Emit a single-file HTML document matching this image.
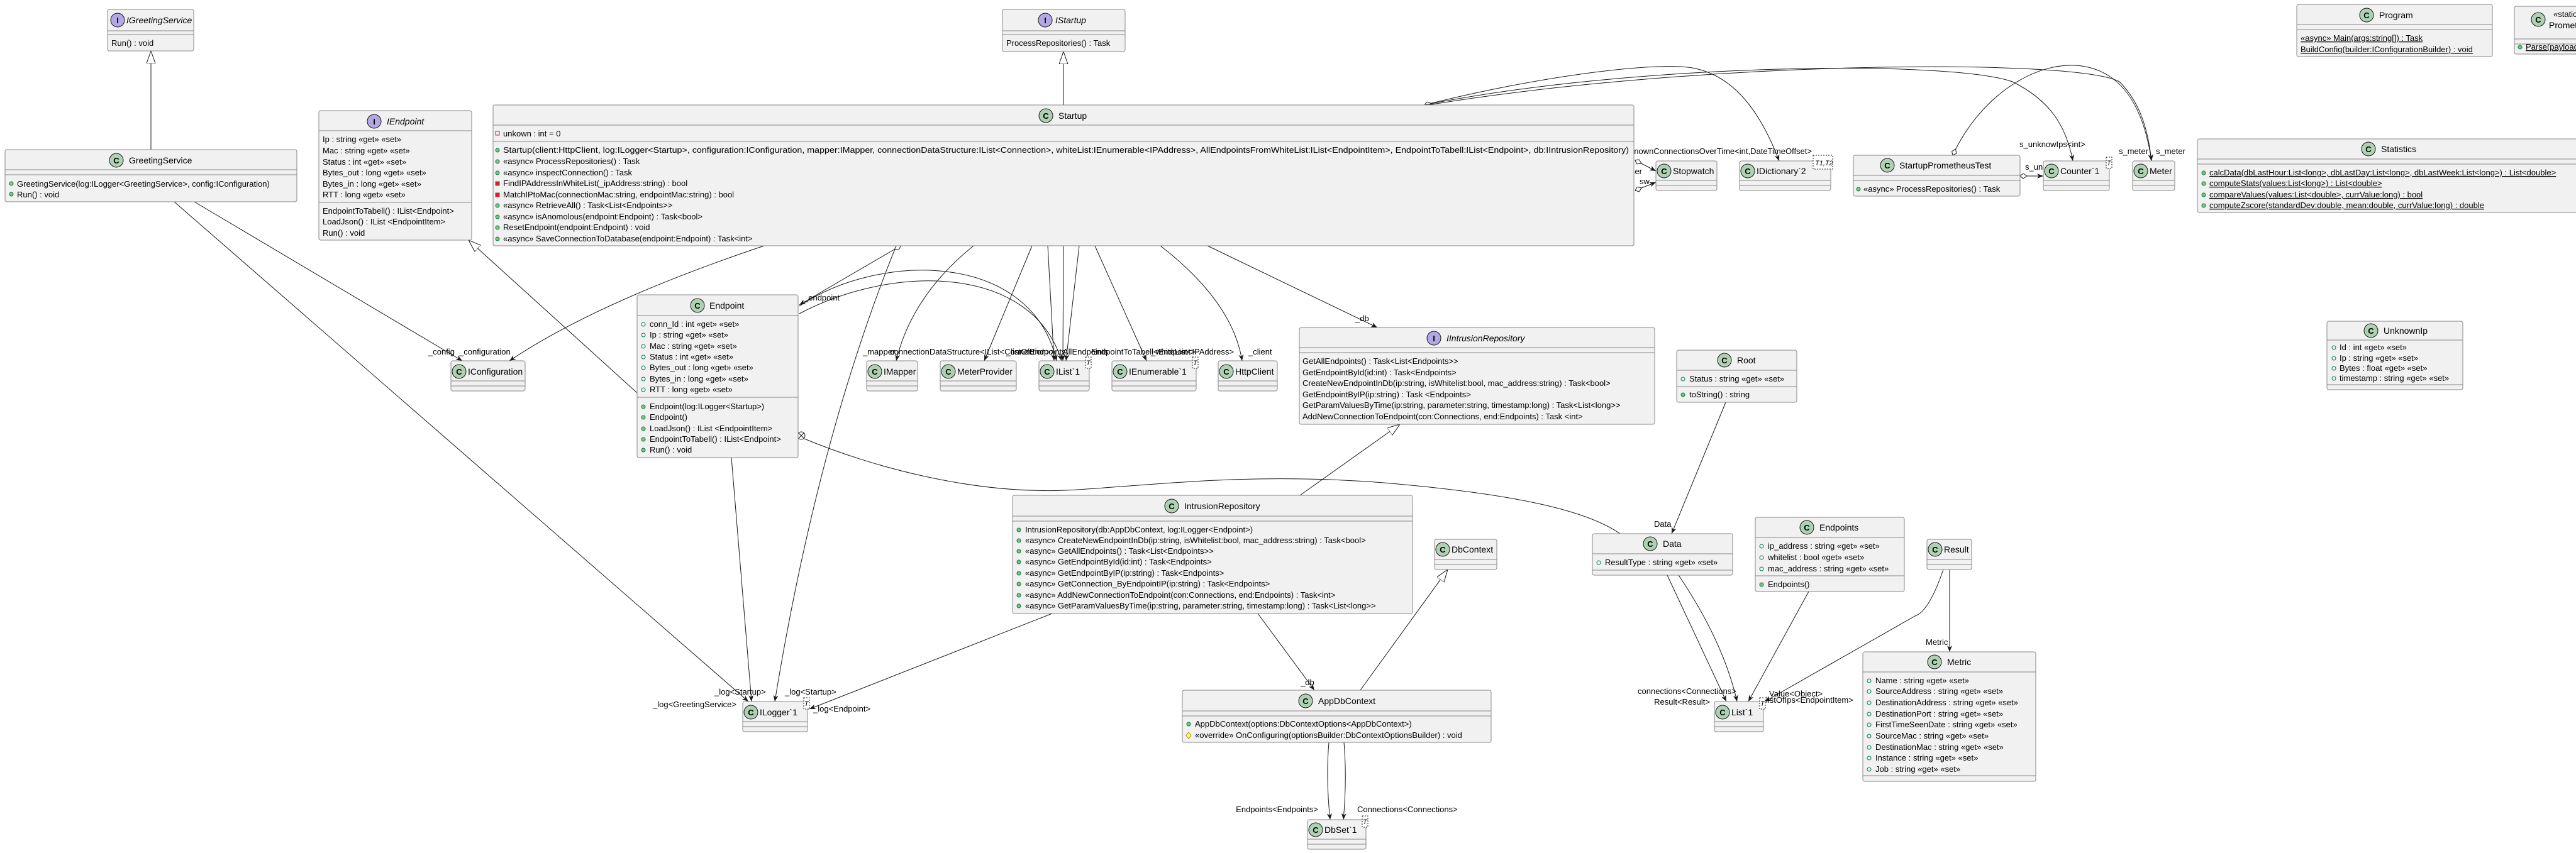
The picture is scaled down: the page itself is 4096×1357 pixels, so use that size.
<!DOCTYPE html>
<html><head><meta charset="utf-8"><style>
html,body{margin:0;padding:0;background:#fff;}
svg{display:block;}
text{font-family:"Liberation Sans",sans-serif;font-size:13px;fill:#000;}
.t{font-size:14px;}
.it{font-style:italic;}
.u{text-decoration:underline;}
.b{fill:#F1F1F1;stroke:#888;stroke-width:1;}
.s{stroke:#888;stroke-width:1;}
.e{fill:none;stroke:#181818;stroke-width:1;}
.cc{fill:#ADD1B2;stroke:#181818;stroke-width:1;}
.ci{fill:#B4A7E5;stroke:#181818;stroke-width:1;}
.cl{font-weight:bold;font-size:13px;text-anchor:middle;}
.pm{fill:#84BE84;stroke:#038048;}
.pf{fill:none;stroke:#038048;}
.rm{fill:#C82930;stroke:#C82930;}
.rf{fill:none;stroke:#C82930;}
.tp{fill:#fff;stroke:#181818;stroke-dasharray:2,2;}
</style></head><body>
<svg width="4096" height="1357" viewBox="0 0 4096 1357" xmlns="http://www.w3.org/2000/svg">
<defs>
<marker id="a" markerWidth="12" markerHeight="10" refX="10" refY="4" orient="auto" markerUnits="userSpaceOnUse"><path d="M0,0 L10,4 L0,8 L3,4 z" fill="#181818"/></marker>
<marker id="tri" markerWidth="22" markerHeight="16" refX="20" refY="7" orient="auto" markerUnits="userSpaceOnUse"><path d="M0,0 L20,7 L0,14 z" fill="#fff" stroke="#181818"/></marker>
<marker id="dm" markerWidth="14" markerHeight="10" refX="1" refY="4" orient="auto" markerUnits="userSpaceOnUse"><path d="M1,4 L6,0 L12,4 L6,8 z" fill="#fff" stroke="#181818"/></marker>
</defs>

<!-- ===== CONNECTORS ===== -->
<line class="e" x1="240" y1="238" x2="240" y2="81" marker-end="url(#tri)"/>
<line class="e" x1="1691" y1="167" x2="1691" y2="82" marker-end="url(#tri)"/>
<line class="e" x1="1013" y1="625" x2="745" y2="382" marker-end="url(#tri)"/>
<line class="e" x1="309" y1="321" x2="735" y2="574" marker-end="url(#a)"/>
<line class="e" x1="277" y1="321" x2="1190" y2="1116" marker-end="url(#a)"/>
<path class="e" d="M1215,391 Q950,480 810,574" marker-end="url(#a)"/>
<path class="e" d="M1425,391 Q1300,700 1232,1116" marker-end="url(#a)"/>
<line class="e" x1="1163" y1="728" x2="1195" y2="1116" marker-end="url(#a)"/>
<line class="e" x1="1432" y1="391" x2="1271" y2="485" marker-start="url(#dm)" marker-end="url(#a)"/>
<path class="e" d="M1271,487 C1400,400 1640,400 1680,574" marker-end="url(#a)"/>
<path class="e" d="M1271,499 C1420,420 1640,420 1688,574" marker-end="url(#a)"/>
<path class="e" d="M1548,391 Q1450,470 1425,574" marker-end="url(#a)"/>
<line class="e" x1="1641" y1="391" x2="1565" y2="574" marker-end="url(#a)"/>
<line class="e" x1="1666" y1="391" x2="1676" y2="574" marker-end="url(#a)"/>
<line class="e" x1="1691" y1="391" x2="1690" y2="574" marker-end="url(#a)"/>
<line class="e" x1="1716" y1="391" x2="1695" y2="574" marker-end="url(#a)"/>
<line class="e" x1="1741" y1="391" x2="1823" y2="574" marker-end="url(#a)"/>
<path class="e" d="M1845,391 Q1960,480 1975,574" marker-end="url(#a)"/>
<line class="e" x1="1920" y1="391" x2="2190" y2="521" marker-end="url(#a)"/>
<line class="e" x1="2600" y1="255" x2="2633" y2="272" marker-start="url(#dm)" marker-end="url(#a)"/>
<line class="e" x1="2600" y1="303" x2="2633" y2="290" marker-start="url(#dm)" marker-end="url(#a)"/>
<path class="e" d="M2265,167 C2450,120 2650,95 2700,110 C2760,125 2800,180 2829,256" marker-start="url(#dm)" marker-end="url(#a)"/>
<path class="e" d="M2265,167 C2600,100 3100,95 3200,130 C3260,160 3285,200 3296,256" marker-end="url(#a)"/>
<path class="e" d="M2265,168 C2700,96 3300,92 3370,130 C3400,160 3415,200 3421,256" marker-end="url(#a)"/>
<path class="e" d="M3105,247 C3150,150 3240,95 3310,105 C3380,115 3410,180 3421,256" marker-start="url(#dm)" marker-end="url(#a)"/>
<line class="e" x1="3212" y1="280" x2="3249" y2="280" marker-start="url(#dm)" marker-end="url(#a)"/>
<line class="e" x1="1673" y1="976" x2="1287" y2="1128" marker-end="url(#a)"/>
<line class="e" x1="2067" y1="788" x2="2226" y2="675" marker-end="url(#tri)"/>
<line class="e" x1="2000" y1="976" x2="2090" y2="1098" marker-end="url(#a)"/>
<line class="e" x1="2163" y1="1098" x2="2302" y2="906" marker-end="url(#tri)"/>
<path class="e" d="M2113,1181 Q2108,1240 2115,1304" marker-end="url(#a)"/>
<path class="e" d="M2137,1181 Q2142,1240 2136,1304" marker-end="url(#a)"/>
<circle cx="1274" cy="693" r="6" fill="#fff" stroke="#181818"/>
<line x1="1270" y1="689" x2="1278" y2="697" stroke="#181818"/><line x1="1270" y1="697" x2="1278" y2="689" stroke="#181818"/>
<path class="e" d="M1279,698 C1380,740 1550,790 1714,779 C1850,770 2000,752 2200,768 C2400,785 2520,810 2576,849"/>
<line class="e" x1="2744" y1="640" x2="2658" y2="849" marker-end="url(#a)"/>
<path class="e" d="M2651,915 Q2700,1020 2745,1116" marker-end="url(#a)"/>
<path class="e" d="M2669,915 Q2740,1020 2762,1116" marker-end="url(#a)"/>
<line class="e" x1="2876" y1="941" x2="2780" y2="1116" marker-end="url(#a)"/>
<path class="e" d="M3090,906 C3075,950 3060,975 3045,980 L2806,1116" marker-end="url(#a)"/>
<line class="e" x1="3100" y1="906" x2="3100" y2="1037" marker-end="url(#a)"/>

<!-- edge labels -->
<text x="681" y="564">_config</text>
<text x="730" y="564">_configuration</text>
<text x="1171" y="1125" text-anchor="end">_log&lt;GreetingService&gt;</text>
<text x="1136" y="1105">_log&lt;Startup&gt;</text>
<text x="1248" y="1105">_log&lt;Startup&gt;</text>
<text x="1293" y="1132">_log&lt;Endpoint&gt;</text>
<text x="1278" y="478">_endpoint</text>
<text x="1372" y="564">_mapper</text>
<text x="1415" y="564">connectionDataStructure&lt;IList&lt;Connection&gt;&gt;</text>
<text x="1600" y="564">_listOfEndpoints</text>
<text x="1690" y="564">AllEndpoints</text>
<text x="1735" y="564">EndpointToTabell&lt;Endpoint&gt;</text>
<text x="1830" y="564">_whiteList&lt;IPAddress&gt;</text>
<text x="1985" y="564">_client</text>
<text x="2155" y="511">_db</text>
<text x="2881" y="245" text-anchor="end">_unknownConnectionsOverTime&lt;int,DateTimeOffset&gt;</text>
<text x="2611" y="277" text-anchor="end">timer</text>
<text x="2607" y="293">sw</text>
<text x="3211" y="234">s_unknowIps&lt;int&gt;</text>
<text x="3220" y="270">s_unknowIps&lt;int&gt;</text>
<text x="3369" y="245">s_meter</text>
<text x="3428" y="245">s_meter</text>
<text x="2068" y="1090">_db</text>
<text x="2096" y="1292" text-anchor="end">Endpoints&lt;Endpoints&gt;</text>
<text x="2158" y="1292">Connections&lt;Connections&gt;</text>
<text x="2630" y="838">Data</text>
<text x="2604" y="1104">connections&lt;Connections&gt;</text>
<text x="2719" y="1121" text-anchor="end">Result&lt;Result&gt;</text>
<text x="2813" y="1108">Value&lt;Object&gt;</text>
<text x="2808" y="1118">listOfIps&lt;EndpointItem&gt;</text>
<text x="3062" y="1026">Metric</text>

<!-- ===== BOXES ===== -->
<!-- IGreetingService -->
<rect class="b" x="171" y="15" width="137" height="66" rx="3"/>
<line class="s" x1="171" y1="49" x2="308" y2="49"/><line class="s" x1="171" y1="55" x2="308" y2="55"/>
<circle class="ci" cx="187" cy="32" r="11"/><text class="cl" x="187" y="37">I</text>
<text class="t it" x="201" y="37">IGreetingService</text>
<text x="177" y="73">Run() : void</text>

<!-- GreetingService -->
<rect class="b" x="8" y="238" width="464" height="83" rx="3"/>
<line class="s" x1="8" y1="270" x2="472" y2="270"/><line class="s" x1="8" y1="278" x2="472" y2="278"/>
<circle class="cc" cx="185" cy="255" r="11"/><text class="cl" x="185" y="260">C</text>
<text class="t" x="205" y="260">GreetingService</text>
<circle class="pm" cx="18" cy="292" r="3"/><text x="27" y="297">GreetingService(log:ILogger&lt;GreetingService&gt;, config:IConfiguration)</text>
<circle class="pm" cx="18" cy="309" r="3"/><text x="27" y="314">Run() : void</text>

<!-- IEndpoint -->
<rect class="b" x="507" y="176" width="243" height="206" rx="3"/>
<line class="s" x1="507" y1="208" x2="750" y2="208"/><line class="s" x1="507" y1="322" x2="750" y2="322"/>
<circle class="ci" cx="595" cy="193" r="11"/><text class="cl" x="595" y="198">I</text>
<text class="t it" x="615" y="198">IEndpoint</text>
<text x="513" y="226">Ip : string «get» «set»</text>
<text x="513" y="244">Mac : string «get» «set»</text>
<text x="513" y="262">Status : int «get» «set»</text>
<text x="513" y="279">Bytes_out : long «get» «set»</text>
<text x="513" y="297">Bytes_in : long «get» «set»</text>
<text x="513" y="314">RTT : long «get» «set»</text>
<text x="513" y="340">EndpointToTabell() : IList&lt;Endpoint&gt;</text>
<text x="513" y="357">LoadJson() : IList &lt;EndpointItem&gt;</text>
<text x="513" y="375">Run() : void</text>

<!-- IStartup -->
<rect class="b" x="1594" y="15" width="195" height="67" rx="3"/>
<line class="s" x1="1594" y1="49" x2="1789" y2="49"/><line class="s" x1="1594" y1="55" x2="1789" y2="55"/>
<circle class="ci" cx="1662" cy="32" r="11"/><text class="cl" x="1662" y="37">I</text>
<text class="t it" x="1678" y="37">IStartup</text>
<text x="1600" y="73">ProcessRepositories() : Task</text>

<!-- Startup -->
<rect class="b" x="784" y="167" width="1814" height="224" rx="3"/>
<line class="s" x1="784" y1="199" x2="2598" y2="199"/><line class="s" x1="784" y1="225" x2="2598" y2="225"/>
<circle class="cc" cx="1663" cy="184" r="11"/><text class="cl" x="1663" y="189">C</text>
<text class="t" x="1683" y="189">Startup</text>
<rect class="rf" x="788" y="209" width="6" height="6"/><text x="800" y="217">unkown : int = 0</text>
<circle class="pm" cx="791" cy="239" r="3"/><text x="800" y="243" textLength="1790" lengthAdjust="spacingAndGlyphs">Startup(client:HttpClient, log:ILogger&lt;Startup&gt;, configuration:IConfiguration, mapper:IMapper, connectionDataStructure:IList&lt;Connection&gt;, whiteList:IEnumerable&lt;IPAddress&gt;, AllEndpointsFromWhiteList:IList&lt;EndpointItem&gt;, EndpointToTabell:IList&lt;Endpoint&gt;, db:IIntrusionRepository)</text>
<circle class="pm" cx="791" cy="257" r="3"/><text x="800" y="261">«async» ProcessRepositories() : Task</text>
<circle class="pm" cx="791" cy="275" r="3"/><text x="800" y="279">«async» inspectConnection() : Task</text>
<rect class="rm" x="788" y="289" width="6" height="6"/><text x="800" y="296">FindIPAddressInWhiteList(_ipAddress:string) : bool</text>
<rect class="rm" x="788" y="307" width="6" height="6"/><text x="800" y="314">MatchIPtoMac(connectionMac:string, endpointMac:string) : bool</text>
<circle class="pm" cx="791" cy="327" r="3"/><text x="800" y="331">«async» RetrieveAll() : Task&lt;List&lt;Endpoints&gt;&gt;</text>
<circle class="pm" cx="791" cy="345" r="3"/><text x="800" y="349">«async» isAnomolous(endpoint:Endpoint) : Task&lt;bool&gt;</text>
<circle class="pm" cx="791" cy="362" r="3"/><text x="800" y="366">ResetEndpoint(endpoint:Endpoint) : void</text>
<circle class="pm" cx="791" cy="380" r="3"/><text x="800" y="384">«async» SaveConnectionToDatabase(endpoint:Endpoint) : Task&lt;int&gt;</text>

<!-- Endpoint -->
<rect class="b" x="1013" y="469" width="256" height="259" rx="3"/>
<line class="s" x1="1013" y1="502" x2="1269" y2="502"/><line class="s" x1="1013" y1="632" x2="1269" y2="632"/>
<circle class="cc" cx="1109" cy="486" r="11"/><text class="cl" x="1109" y="491">C</text>
<text class="t" x="1128" y="491">Endpoint</text>
<circle class="pf" cx="1023" cy="516" r="3"/><text x="1033" y="520">conn_Id : int «get» «set»</text>
<circle class="pf" cx="1023" cy="533" r="3"/><text x="1033" y="537">Ip : string «get» «set»</text>
<circle class="pf" cx="1023" cy="551" r="3"/><text x="1033" y="555">Mac : string «get» «set»</text>
<circle class="pf" cx="1023" cy="568" r="3"/><text x="1033" y="572">Status : int «get» «set»</text>
<circle class="pf" cx="1023" cy="585" r="3"/><text x="1033" y="589">Bytes_out : long «get» «set»</text>
<circle class="pf" cx="1023" cy="603" r="3"/><text x="1033" y="607">Bytes_in : long «get» «set»</text>
<circle class="pf" cx="1023" cy="620" r="3"/><text x="1033" y="624">RTT : long «get» «set»</text>
<circle class="pm" cx="1023" cy="647" r="3"/><text x="1033" y="651">Endpoint(log:ILogger&lt;Startup&gt;)</text>
<circle class="pm" cx="1023" cy="664" r="3"/><text x="1033" y="668">Endpoint()</text>
<circle class="pm" cx="1023" cy="682" r="3"/><text x="1033" y="686">LoadJson() : IList &lt;EndpointItem&gt;</text>
<circle class="pm" cx="1023" cy="699" r="3"/><text x="1033" y="703">EndpointToTabell() : IList&lt;Endpoint&gt;</text>
<circle class="pm" cx="1023" cy="716" r="3"/><text x="1033" y="720">Run() : void</text>

<!-- small classes y=574 -->
<g>
<rect class="b" x="717" y="574" width="118" height="48" rx="3"/><line class="s" x1="717" y1="606" x2="835" y2="606"/><line class="s" x1="717" y1="614" x2="835" y2="614"/>
<circle class="cc" cx="730" cy="591" r="11"/><text class="cl" x="730" y="596">C</text><text class="t" x="744" y="596">IConfiguration</text>
<rect class="b" x="1378" y="574" width="81" height="48" rx="3"/><line class="s" x1="1378" y1="606" x2="1459" y2="606"/><line class="s" x1="1378" y1="614" x2="1459" y2="614"/>
<circle class="cc" cx="1391" cy="591" r="11"/><text class="cl" x="1391" y="596">C</text><text class="t" x="1405" y="596">IMapper</text>
<rect class="b" x="1495" y="574" width="121" height="48" rx="3"/><line class="s" x1="1495" y1="606" x2="1616" y2="606"/><line class="s" x1="1495" y1="614" x2="1616" y2="614"/>
<circle class="cc" cx="1508" cy="591" r="11"/><text class="cl" x="1508" y="596">C</text><text class="t" x="1522" y="596">MeterProvider</text>
<rect class="b" x="1652" y="574" width="80" height="48" rx="3"/><line class="s" x1="1652" y1="606" x2="1732" y2="606"/><line class="s" x1="1652" y1="614" x2="1732" y2="614"/>
<circle class="cc" cx="1665" cy="591" r="11"/><text class="cl" x="1665" y="596">C</text><text class="t" x="1679" y="596">IList`1</text>
<rect class="tp" x="1726" y="568" width="9" height="18"/><text class="it" x="1727" y="581" style="font-size:11px">T</text>
<rect class="b" x="1768" y="574" width="134" height="48" rx="3"/><line class="s" x1="1768" y1="606" x2="1902" y2="606"/><line class="s" x1="1768" y1="614" x2="1902" y2="614"/>
<circle class="cc" cx="1781" cy="591" r="11"/><text class="cl" x="1781" y="596">C</text><text class="t" x="1795" y="596">IEnumerable`1</text>
<rect class="tp" x="1896" y="568" width="9" height="18"/><text class="it" x="1897" y="581" style="font-size:11px">T</text>
<rect class="b" x="1937" y="574" width="94" height="48" rx="3"/><line class="s" x1="1937" y1="606" x2="2031" y2="606"/><line class="s" x1="1937" y1="614" x2="2031" y2="614"/>
<circle class="cc" cx="1950" cy="591" r="11"/><text class="cl" x="1950" y="596">C</text><text class="t" x="1964" y="596">HttpClient</text>
</g>

<!-- IIntrusionRepository -->
<rect class="b" x="2066" y="521" width="565" height="154" rx="3"/>
<line class="s" x1="2066" y1="553" x2="2631" y2="553"/><line class="s" x1="2066" y1="561" x2="2631" y2="561"/>
<circle class="ci" cx="2280" cy="538" r="11"/><text class="cl" x="2280" y="543">I</text>
<text class="t it" x="2300" y="543">IIntrusionRepository</text>
<text x="2071" y="579">GetAllEndpoints() : Task&lt;List&lt;Endpoints&gt;&gt;</text>
<text x="2071" y="597">GetEndpointById(id:int) : Task&lt;Endpoints&gt;</text>
<text x="2071" y="614">CreateNewEndpointInDb(ip:string, isWhitelist:bool, mac_address:string) : Task&lt;bool&gt;</text>
<text x="2071" y="632">GetEndpointByIP(ip:string) : Task &lt;Endpoints&gt;</text>
<text x="2071" y="649">GetParamValuesByTime(ip:string, parameter:string, timestamp:long) : Task&lt;List&lt;long&gt;&gt;</text>
<text x="2071" y="667">AddNewConnectionToEndpoint(con:Connections, end:Endpoints) : Task &lt;int&gt;</text>

<!-- Stopwatch, IDictionary, StartupPrometheusTest, Counter, Meter -->
<rect class="b" x="2633" y="256" width="97" height="47" rx="3"/><line class="s" x1="2633" y1="287" x2="2730" y2="287"/><line class="s" x1="2633" y1="295" x2="2730" y2="295"/>
<circle class="cc" cx="2646" cy="272" r="11"/><text class="cl" x="2646" y="277">C</text><text class="t" x="2660" y="277">Stopwatch</text>
<rect class="b" x="2766" y="256" width="145" height="47" rx="3"/><line class="s" x1="2766" y1="287" x2="2911" y2="287"/><line class="s" x1="2766" y1="295" x2="2911" y2="295"/>
<circle class="cc" cx="2779" cy="272" r="11"/><text class="cl" x="2779" y="277">C</text><text class="t" x="2793" y="277">IDictionary`2</text>
<rect class="tp" x="2883" y="247" width="31" height="22"/><text class="it" x="2886" y="263" style="font-size:11px">T1,T2</text>
<rect class="b" x="2947" y="247" width="265" height="65" rx="3"/><line class="s" x1="2947" y1="279" x2="3212" y2="279"/><line class="s" x1="2947" y1="287" x2="3212" y2="287"/>
<circle class="cc" cx="3001" cy="263" r="11"/><text class="cl" x="3001" y="268">C</text><text class="t" x="3020" y="268">StartupPrometheusTest</text>
<circle class="pm" cx="2955" cy="301" r="3"/><text x="2963" y="305">«async» ProcessRepositories() : Task</text>
<rect class="b" x="3249" y="256" width="105" height="47" rx="3"/><line class="s" x1="3249" y1="287" x2="3354" y2="287"/><line class="s" x1="3249" y1="295" x2="3354" y2="295"/>
<circle class="cc" cx="3262" cy="272" r="11"/><text class="cl" x="3262" y="277">C</text><text class="t" x="3276" y="277">Counter`1</text>
<rect class="tp" x="3349" y="250" width="9" height="18"/><text class="it" x="3350" y="263" style="font-size:11px">T</text>
<rect class="b" x="3391" y="256" width="67" height="47" rx="3"/><line class="s" x1="3391" y1="287" x2="3458" y2="287"/><line class="s" x1="3391" y1="295" x2="3458" y2="295"/>
<circle class="cc" cx="3404" cy="272" r="11"/><text class="cl" x="3404" y="277">C</text><text class="t" x="3418" y="277">Meter</text>

<!-- Program -->
<rect class="b" x="3652" y="7" width="311" height="83" rx="3"/>
<line class="s" x1="3652" y1="39" x2="3963" y2="39"/><line class="s" x1="3652" y1="47" x2="3963" y2="47"/>
<circle class="cc" cx="3763" cy="24" r="11"/><text class="cl" x="3763" y="29">C</text><text class="t" x="3783" y="29">Program</text>
<text class="u" x="3658" y="65">«async» Main(args:string[]) : Task</text>
<text class="u" x="3658" y="83">BuildConfig(builder:IConfigurationBuilder) : void</text>

<!-- PrometheusParser (cut) -->
<rect class="b" x="3998" y="10" width="120" height="76" rx="3"/>
<line class="s" x1="3998" y1="62" x2="4096" y2="62"/><line class="s" x1="3998" y1="70" x2="4096" y2="70"/>
<circle class="cc" cx="4036" cy="31" r="11"/><text class="cl" x="4036" y="36">C</text>
<text x="4060" y="27">«static»</text>
<text class="t" x="4053" y="45">PrometheusParser</text>
<circle class="pm" cx="4007" cy="75" r="3"/><text class="u" x="4016" y="79">Parse(payload:string)</text>

<!-- Statistics -->
<rect class="b" x="3494" y="221" width="640" height="117" rx="3"/>
<line class="s" x1="3494" y1="253" x2="4096" y2="253"/><line class="s" x1="3494" y1="261" x2="4096" y2="261"/>
<circle class="cc" cx="3766" cy="237" r="11"/><text class="cl" x="3766" y="242">C</text><text class="t" x="3786" y="242">Statistics</text>
<circle class="pm" cx="3504" cy="275" r="3"/><text class="u" x="3513" y="279">calcData(dbLastHour:List&lt;long&gt;, dbLastDay:List&lt;long&gt;, dbLastWeek:List&lt;long&gt;) : List&lt;double&gt;</text>
<circle class="pm" cx="3504" cy="292" r="3"/><text class="u" x="3513" y="296">computeStats(values:List&lt;long&gt;) : List&lt;double&gt;</text>
<circle class="pm" cx="3504" cy="310" r="3"/><text class="u" x="3513" y="314">compareValues(values:List&lt;double&gt;, currValue:long) : bool</text>
<circle class="pm" cx="3504" cy="327" r="3"/><text class="u" x="3513" y="331">computeZscore(standardDev:double, mean:double, currValue:long) : double</text>

<!-- UnknownIp -->
<rect class="b" x="3700" y="511" width="216" height="109" rx="3"/>
<line class="s" x1="3700" y1="541" x2="3916" y2="541"/><line class="s" x1="3700" y1="612" x2="3916" y2="612"/>
<circle class="cc" cx="3770" cy="526" r="11"/><text class="cl" x="3770" y="531">C</text><text class="t" x="3790" y="531">UnknownIp</text>
<circle class="pf" cx="3711" cy="553" r="3"/><text x="3720" y="557">Id : int «get» «set»</text>
<circle class="pf" cx="3711" cy="570" r="3"/><text x="3720" y="574">Ip : string «get» «set»</text>
<circle class="pf" cx="3711" cy="586" r="3"/><text x="3720" y="590">Bytes : float «get» «set»</text>
<circle class="pf" cx="3711" cy="602" r="3"/><text x="3720" y="606">timestamp : string «get» «set»</text>

<!-- Root -->
<rect class="b" x="2666" y="557" width="191" height="83" rx="3"/>
<line class="s" x1="2666" y1="589" x2="2857" y2="589"/><line class="s" x1="2666" y1="615" x2="2857" y2="615"/>
<circle class="cc" cx="2742" cy="573" r="11"/><text class="cl" x="2742" y="578">C</text><text class="t" x="2762" y="578">Root</text>
<circle class="pf" cx="2676" cy="603" r="3"/><text x="2686" y="607">Status : string «get» «set»</text>
<circle class="pm" cx="2676" cy="628" r="3"/><text x="2686" y="632">toString() : string</text>

<!-- Data -->
<rect class="b" x="2532" y="849" width="223" height="66" rx="3"/>
<line class="s" x1="2532" y1="881" x2="2755" y2="881"/><line class="s" x1="2532" y1="907" x2="2755" y2="907"/>
<circle class="cc" cx="2624" cy="865" r="11"/><text class="cl" x="2624" y="870">C</text><text class="t" x="2644" y="870">Data</text>
<circle class="pf" cx="2542" cy="895" r="3"/><text x="2552" y="899">ResultType : string «get» «set»</text>

<!-- Endpoints -->
<rect class="b" x="2791" y="823" width="237" height="118" rx="3"/>
<line class="s" x1="2791" y1="855" x2="3028" y2="855"/><line class="s" x1="2791" y1="916" x2="3028" y2="916"/>
<circle class="cc" cx="2873" cy="839" r="11"/><text class="cl" x="2873" y="844">C</text><text class="t" x="2893" y="844">Endpoints</text>
<circle class="pf" cx="2801" cy="869" r="3"/><text x="2811" y="873">ip_address : string «get» «set»</text>
<circle class="pf" cx="2801" cy="887" r="3"/><text x="2811" y="891">whitelist : bool «get» «set»</text>
<circle class="pf" cx="2801" cy="905" r="3"/><text x="2811" y="909">mac_address : string «get» «set»</text>
<circle class="pm" cx="2801" cy="930" r="3"/><text x="2811" y="934">Endpoints()</text>

<!-- Result -->
<rect class="b" x="3064" y="858" width="71" height="48" rx="3"/><line class="s" x1="3064" y1="890" x2="3135" y2="890"/><line class="s" x1="3064" y1="898" x2="3135" y2="898"/>
<circle class="cc" cx="3077" cy="874" r="11"/><text class="cl" x="3077" y="879">C</text><text class="t" x="3091" y="879">Result</text>

<!-- Metric -->
<rect class="b" x="2962" y="1037" width="275" height="206" rx="3"/>
<line class="s" x1="2962" y1="1069" x2="3237" y2="1069"/><line class="s" x1="2962" y1="1234" x2="3237" y2="1234"/>
<circle class="cc" cx="3076" cy="1053" r="11"/><text class="cl" x="3076" y="1058">C</text><text class="t" x="3096" y="1058">Metric</text>
<circle class="pf" cx="2972" cy="1083" r="3"/><text x="2982" y="1087">Name : string «get» «set»</text>
<circle class="pf" cx="2972" cy="1100" r="3"/><text x="2982" y="1104">SourceAddress : string «get» «set»</text>
<circle class="pf" cx="2972" cy="1118" r="3"/><text x="2982" y="1122">DestinationAddress : string «get» «set»</text>
<circle class="pf" cx="2972" cy="1136" r="3"/><text x="2982" y="1140">DestinationPort : string «get» «set»</text>
<circle class="pf" cx="2972" cy="1153" r="3"/><text x="2982" y="1157">FirstTimeSeenDate : string «get» «set»</text>
<circle class="pf" cx="2972" cy="1171" r="3"/><text x="2982" y="1175">SourceMac : string «get» «set»</text>
<circle class="pf" cx="2972" cy="1189" r="3"/><text x="2982" y="1193">DestinationMac : string «get» «set»</text>
<circle class="pf" cx="2972" cy="1206" r="3"/><text x="2982" y="1210">Instance : string «get» «set»</text>
<circle class="pf" cx="2972" cy="1224" r="3"/><text x="2982" y="1228">Job : string «get» «set»</text>

<!-- List`1 -->
<rect class="b" x="2726" y="1116" width="78" height="48" rx="3"/><line class="s" x1="2726" y1="1148" x2="2804" y2="1148"/><line class="s" x1="2726" y1="1156" x2="2804" y2="1156"/>
<circle class="cc" cx="2739" cy="1133" r="11"/><text class="cl" x="2739" y="1138">C</text><text class="t" x="2753" y="1138">List`1</text>
<rect class="tp" x="2798" y="1110" width="9" height="18"/><text class="it" x="2799" y="1123" style="font-size:11px">T</text>

<!-- ILogger`1 -->
<rect class="b" x="1181" y="1116" width="103" height="48" rx="3"/><line class="s" x1="1181" y1="1148" x2="1284" y2="1148"/><line class="s" x1="1181" y1="1156" x2="1284" y2="1156"/>
<circle class="cc" cx="1194" cy="1133" r="11"/><text class="cl" x="1194" y="1138">C</text><text class="t" x="1208" y="1138">ILogger`1</text>
<rect class="tp" x="1278" y="1110" width="9" height="18"/><text class="it" x="1279" y="1123" style="font-size:11px">T</text>

<!-- IntrusionRepository -->
<rect class="b" x="1610" y="788" width="636" height="188" rx="3"/>
<line class="s" x1="1610" y1="821" x2="2246" y2="821"/><line class="s" x1="1610" y1="829" x2="2246" y2="829"/>
<circle class="cc" cx="1863" cy="805" r="11"/><text class="cl" x="1863" y="810">C</text><text class="t" x="1883" y="810">IntrusionRepository</text>
<circle class="pm" cx="1620" cy="843" r="3"/><text x="1630" y="847">IntrusionRepository(db:AppDbContext, log:ILogger&lt;Endpoint&gt;)</text>
<circle class="pm" cx="1620" cy="860" r="3"/><text x="1630" y="864">«async» CreateNewEndpointInDb(ip:string, isWhitelist:bool, mac_address:string) : Task&lt;bool&gt;</text>
<circle class="pm" cx="1620" cy="877" r="3"/><text x="1630" y="881">«async» GetAllEndpoints() : Task&lt;List&lt;Endpoints&gt;&gt;</text>
<circle class="pm" cx="1620" cy="894" r="3"/><text x="1630" y="898">«async» GetEndpointById(id:int) : Task&lt;Endpoints&gt;</text>
<circle class="pm" cx="1620" cy="912" r="3"/><text x="1630" y="916">«async» GetEndpointByIP(ip:string) : Task&lt;Endpoints&gt;</text>
<circle class="pm" cx="1620" cy="929" r="3"/><text x="1630" y="933">«async» GetConnection_ByEndpointIP(ip:string) : Task&lt;Endpoints&gt;</text>
<circle class="pm" cx="1620" cy="947" r="3"/><text x="1630" y="951">«async» AddNewConnectionToEndpoint(con:Connections, end:Endpoints) : Task&lt;int&gt;</text>
<circle class="pm" cx="1620" cy="964" r="3"/><text x="1630" y="968">«async» GetParamValuesByTime(ip:string, parameter:string, timestamp:long) : Task&lt;List&lt;long&gt;&gt;</text>

<!-- DbContext -->
<rect class="b" x="2281" y="858" width="99" height="48" rx="3"/><line class="s" x1="2281" y1="890" x2="2380" y2="890"/><line class="s" x1="2281" y1="898" x2="2380" y2="898"/>
<circle class="cc" cx="2294" cy="874" r="11"/><text class="cl" x="2294" y="879">C</text><text class="t" x="2308" y="879">DbContext</text>

<!-- AppDbContext -->
<rect class="b" x="1880" y="1098" width="491" height="83" rx="3"/>
<line class="s" x1="1880" y1="1131" x2="2371" y2="1131"/><line class="s" x1="1880" y1="1139" x2="2371" y2="1139"/>
<circle class="cc" cx="2076" cy="1115" r="11"/><text class="cl" x="2076" y="1120">C</text><text class="t" x="2096" y="1120">AppDbContext</text>
<circle class="pm" cx="1890" cy="1152" r="3"/><text x="1900" y="1156">AppDbContext(options:DbContextOptions&lt;AppDbContext&gt;)</text>
<path d="M1890,1165 L1894,1170 L1890,1175 L1886,1170 z" fill="#FFFF44" stroke="#B38D22"/><text x="1900" y="1174">«override» OnConfiguring(optionsBuilder:DbContextOptionsBuilder) : void</text>

<!-- DbSet`1 -->
<rect class="b" x="2079" y="1304" width="93" height="47" rx="3"/><line class="s" x1="2079" y1="1335" x2="2172" y2="1335"/><line class="s" x1="2079" y1="1343" x2="2172" y2="1343"/>
<circle class="cc" cx="2092" cy="1320" r="11"/><text class="cl" x="2092" y="1325">C</text><text class="t" x="2106" y="1325">DbSet`1</text>
<rect class="tp" x="2166" y="1298" width="9" height="18"/><text class="it" x="2167" y="1311" style="font-size:11px">T</text>
</svg>
</body></html>
